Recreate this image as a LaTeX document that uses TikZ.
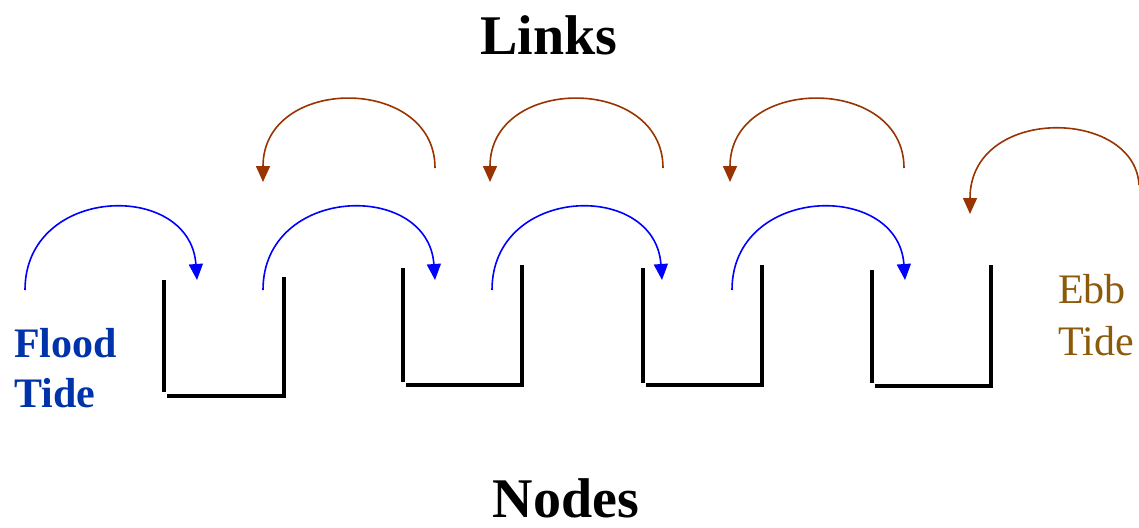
\documentclass[tikz,border=0pt]{standalone}
\usepackage{fontspec}
\setmainfont{Liberation Serif}
\usetikzlibrary{arrows.meta}
\definecolor{floodblue}{RGB}{0,51,170}
\definecolor{ebbbrown}{RGB}{140,90,10}
\definecolor{linkbrown}{RGB}{153,51,0}
\tikzset{
  bucket/.style={line width=3.5pt},
  floodarrow/.style={blue, line width=1.6pt, -{Triangle[width=14pt,length=16pt]}},
  ebbarrow/.style={linkbrown, line width=1.6pt, -{Triangle[width=14pt,length=16pt]}}
}
\begin{document}
\begin{tikzpicture}[x=1pt,y=-1pt]
        \useasboundingbox (0,0) rectangle (1139,527);

        % Titles
        \node[anchor=base, font=\fontsize{56}{60}\selectfont\bfseries] (links) at (549,55) {Links};
        \node[anchor=base, font=\fontsize{56}{60}\selectfont\bfseries] (nodes) at (566,517) {Nodes};

        % Flood and ebb labels
        \node[anchor=base west, inner sep=0, align=left, text=floodblue,
              font=\fontsize{42}{50}\selectfont\bfseries] (flood) at (14,407) {Flood\\Tide};
        \node[anchor=base west, inner sep=0, align=left, text=ebbbrown,
              font=\fontsize{42}{52}\selectfont] (ebb) at (1058,355) {Ebb\\Tide};

        % Draw the nodes (buckets)
        \draw[bucket] (164,280) -- (164,392);
        \draw[bucket] (167,396) -- (284,396) -- (284,277);
        \draw[bucket] (403,268) -- (403,382);
        \draw[bucket] (406,385) -- (522,385) -- (522,265);
        \draw[bucket] (643,268) -- (643,383);
        \draw[bucket] (646,385) -- (762,385) -- (762,265);
        \draw[bucket] (872,270) -- (872,383);
        \draw[bucket] (875,386) -- (991,386) -- (991,265);

        % End points of the links
        \coordinate (f0) at (25,290);   \coordinate (f1) at (197,280);
        \coordinate (f2) at (263,290);  \coordinate (f3) at (435,280);
        \coordinate (f4) at (492,290);  \coordinate (f5) at (662,280);
        \coordinate (f6) at (732,290);  \coordinate (f7) at (905,280);
        \coordinate (e0) at (435,168);  \coordinate (e1) at (263,182);
        \coordinate (e2) at (663,168);  \coordinate (e3) at (490,182);
        \coordinate (e4) at (904,168);  \coordinate (e5) at (730,182);
        \coordinate (e6) at (1139,185); \coordinate (e7) at (970,214);

        % Flood tide links
        \draw[floodarrow] (f0) .. controls (25,185) and (190,180) .. (f1);
        \draw[floodarrow] (f2) .. controls (263,185) and (428,180) .. (f3);
        \draw[floodarrow] (f4) .. controls (492,185) and (655,180) .. (f5);
        \draw[floodarrow] (f6) .. controls (732,185) and (898,180) .. (f7);

        % Ebb tide links
        \draw[ebbarrow] (e0) .. controls (435,75) and (263,75) .. (e1);
        \draw[ebbarrow] (e2) .. controls (663,75) and (490,75) .. (e3);
        \draw[ebbarrow] (e4) .. controls (904,75) and (730,75) .. (e5);
        \draw[ebbarrow] (e6) .. controls (1135,108) and (970,105) .. (e7);
\end{tikzpicture}
\end{document}
